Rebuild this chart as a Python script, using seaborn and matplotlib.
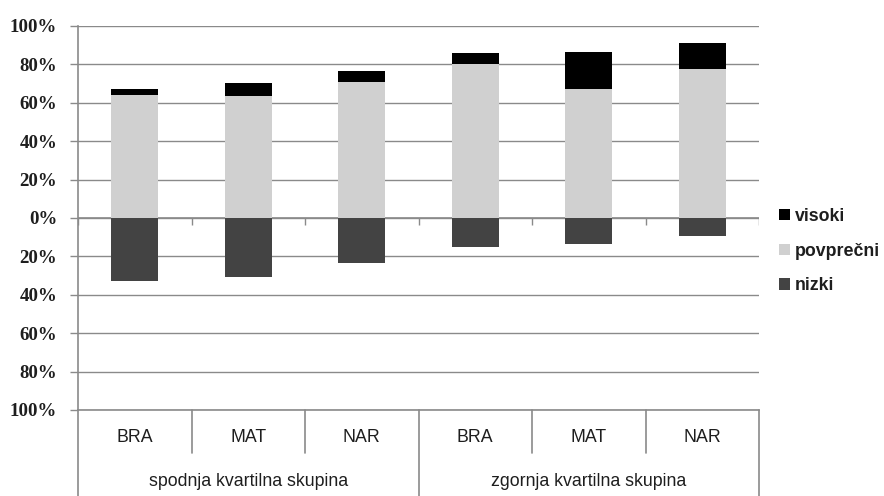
import matplotlib
matplotlib.use('Agg')
import matplotlib.pyplot as plt
import seaborn as sns
import pandas as pd
import numpy as np
from matplotlib.patches import Patch
from matplotlib.transforms import blended_transform_factory

# ---- data ----
subjects = ['BRA', 'MAT', 'NAR', 'BRA', 'MAT', 'NAR']
groups = ['spodnja kvartilna skupina', 'zgornja kvartilna skupina']
povprecni = [64, 63.5, 71, 80, 67, 77.5]
visoki = [3, 7, 5.5, 6, 19.5, 13.5]
nizki = [33, 30.5, 23.5, 15, 13.5, 9.5]
series_names = ['visoki', 'povprečni', 'nizki']
yticks = [-100, -80, -60, -40, -20, 0, 20, 40, 60, 80, 100]

col_vis = '#000000'
col_pov = '#d0d0d0'
col_niz = '#434343'
grid_col = '#8a8a8a'
text_col = '#1e1e1e'

sns.set_theme(style='white')
plt.rcParams['font.family'] = ['Liberation Sans', 'DejaVu Sans']

W, H = 884, 496
fig = plt.figure(figsize=(W / 100, H / 100), dpi=100)
ax = fig.add_axes([78 / W, 86 / H, 681 / W, 384 / H])

keys = [f'{g}|{i}' for i, g in enumerate(np.repeat([0, 1], 3))]
df = pd.DataFrame({
    'key': keys,
    'top': np.add(povprecni, visoki),
    'pov': povprecni,
    'neg': -np.array(nizki, dtype=float),
})

common = dict(data=df, x='key', order=keys, width=0.41, ax=ax,
              errorbar=None, saturation=1, linewidth=0, zorder=3)
sns.barplot(y='top', color=col_vis, **common)
sns.barplot(y='pov', color=col_pov, **common)
sns.barplot(y='neg', color=col_niz, **common)

ax.set_xlim(-0.5, len(keys) - 0.5)
ax.set_ylim(-100, 100)
ax.set_xlabel('')
ax.set_ylabel('')
ax.set_xticks([])
ax.set_yticks(yticks)
ax.set_yticklabels([f'{abs(v)}%' for v in yticks],
                   fontfamily=['Liberation Serif', 'DejaVu Serif'],
                   fontweight='bold', fontsize=13.6, color=text_col)
ax.tick_params(axis='y', left=True, length=6, width=1, color=grid_col,
               direction='out', pad=9)
ax.yaxis.grid(True, color=grid_col, linewidth=1)
ax.set_axisbelow(True)
for s in ['top', 'right']:
    ax.spines[s].set_visible(False)
for s in ['left', 'bottom']:
    ax.spines[s].set_color(grid_col)
    ax.spines[s].set_linewidth(1.2)
    ax.spines[s].set_visible(True)

# zero axis with small ticks at category boundaries
ax.axhline(0, color=grid_col, linewidth=1.2, zorder=2)
bounds = np.arange(-0.5, len(keys), 1.0)
ax.vlines(bounds, 0, -3.5, color=grid_col, linewidth=1, zorder=4)

# multi-level category axis below the plot
tr = blended_transform_factory(ax.transData, ax.transAxes)
for i, s in enumerate(subjects):
    ax.text(i, -28 / 384, s, transform=tr, ha='center', va='center',
            fontsize=12.8, color=text_col, clip_on=False)
for gi, g in enumerate(groups):
    ax.text(gi * 3 + 1, -72 / 384, g, transform=tr, ha='center', va='center',
            fontsize=12.8, color=text_col, clip_on=False)
for b in bounds:
    idx = int(b + 0.5)
    if idx % 3 == 0:
        y_end = -86 / 384
    else:
        y_end = -43 / 384
    ax.plot([b, b], [0, y_end], transform=tr, color=grid_col,
            linewidth=1.2, clip_on=False)

# legend
handles = [Patch(facecolor=c, edgecolor='none') for c in (col_vis, col_pov, col_niz)]
leg = fig.legend(handles, series_names, loc='center left',
                 bbox_to_anchor=(779 / W, 1 - 251 / H), frameon=False,
                 prop={'family': ['Liberation Sans', 'DejaVu Sans'],
                       'weight': 'bold', 'size': 12.8},
                 handlelength=0.6, handleheight=0.6, handletextpad=0.3,
                 labelspacing=1.0, borderpad=0, borderaxespad=0)
for t in leg.get_texts():
    t.set_color(text_col)

fig.savefig('out.png', dpi=100)
